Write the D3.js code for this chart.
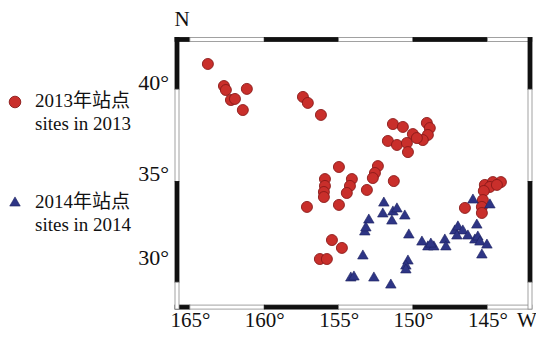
<!DOCTYPE html>
<html>
<head>
<meta charset="utf-8">
<script src="https://cdn.jsdelivr.net/npm/d3@7"></script>
<style>
  html, body { margin: 0; padding: 0; background: #fff; }
  svg { display: block; }
</style>
</head>
<body>
<svg id="chart" width="536" height="340"></svg>
<script>
// ---------- data ----------
const lonTicks = [165, 160, 155, 150, 145];
const latTicks = [40, 35, 30];
const lonTickLabels = ["165°", "160°", "155°", "150°", "145°"];
const latTickLabels = ["40°", "35°", "30°"];
const mapLonExtent = [166, 142];     // degrees W, left -> right
const mapLatExtent = [26.9, 42.45];  // degrees N
const frameLatBreaks = [42.45, 39.6, 34.5, 28.5, 26.9];
const frameLonBreaks = [166, 165, 160, 155, 150, 145, 142];

const sites2013Lon = [163.79, 162.71, 162.58, 161.17, 162.24, 161.97, 161.44, 157.40, 157.07, 156.19,
  151.35, 150.68, 149.07, 148.87, 149.00, 150.01, 151.69, 151.08, 150.41, 150.34, 149.34, 149.74,
  154.98, 155.92, 155.92, 155.99, 155.99, 154.11, 154.24, 154.45, 153.10, 152.36, 152.56, 152.70, 151.29,
  157.13, 154.98, 155.45, 154.78, 156.26, 155.79,
  145.17, 144.63, 144.09, 144.83, 145.24, 144.36, 146.51, 145.30, 145.37, 145.37];
const sites2013Lat = [40.99, 39.78, 39.56, 39.62, 39.01, 39.07, 38.46, 39.18, 38.85, 38.19,
  37.69, 37.53, 37.75, 37.47, 37.09, 37.14, 36.76, 36.54, 36.65, 36.15, 36.81, 36.92,
  35.33, 34.64, 34.23, 33.87, 33.57, 34.64, 34.23, 33.81, 33.99, 35.38, 35.00, 34.70, 34.52,
  32.98, 33.10, 31.01, 30.54, 29.88, 29.88,
  34.29, 34.46, 34.46, 34.17, 33.93, 34.29, 32.92, 33.39, 32.98, 32.62];

const sites2014Lon = [151.96, 152.03, 151.35, 151.08, 151.42, 150.55, 152.97, 153.24, 153.17, 150.28,
  153.37, 149.40, 149.00, 148.60, 148.80, 147.86, 147.79, 147.19, 146.98, 146.65,
  147.05, 146.31, 145.84, 145.71, 145.64, 145.50, 145.03, 145.37, 150.34, 150.48,
  150.48, 154.18, 153.97, 152.63, 151.49, 145.97, 144.83];
const sites2014Lat = [33.21, 32.56, 32.68, 32.86, 32.14, 32.44, 32.20, 31.49, 31.73, 31.31,
  30.06, 30.89, 30.60, 30.60, 30.77, 31.01, 30.60, 31.55, 31.79, 31.55,
  31.25, 31.25, 31.01, 31.90, 31.19, 30.89, 30.71, 30.12, 29.76, 29.46,
  29.23, 28.75, 28.81, 28.75, 28.33, 33.39, 33.10];

const legendCn = ["2013年站点", "2014年站点"];
const legendEn = ["sites in 2013", "sites in 2014"];

// ---------- styles ----------
const redFill = "#c92f2b", redStroke = "#8a1a18";
const blueFill = "#2e3585", blueStroke = "#1c2260";
const serif = "'Liberation Serif', 'Times New Roman', serif";
const legendFont = "'Liberation Serif', 'Noto Sans CJK SC', serif";

// ---------- scales ----------
const x = d3.scaleLinear().domain(mapLonExtent).range([175, 532]);
const y = d3.scaleLinear().domain([30, 35, 40]).range([257, 173, 82]);

const svg = d3.select("#chart");

// ---------- points ----------
const pts2013 = sites2013Lon.map((lon, i) => ({lon, lat: sites2013Lat[i]}));
const pts2014 = sites2014Lon.map((lon, i) => ({lon, lat: sites2014Lat[i]}));

svg.append("g").selectAll("circle").data(pts2013).join("circle")
  .attr("cx", d => x(d.lon)).attr("cy", d => y(d.lat)).attr("r", 5.5)
  .attr("fill", redFill).attr("stroke", redStroke).attr("stroke-width", 0.9);

const tri = d3.symbol().type(d3.symbolTriangle).size(48);
svg.append("g").selectAll("path").data(pts2014).join("path")
  .attr("d", tri)
  .attr("transform", d => `translate(${x(d.lon)},${y(d.lat)})`)
  .attr("fill", blueFill).attr("stroke", blueStroke).attr("stroke-width", 0.6);

// ---------- frame (alternating bars) ----------
const bw = 4;
const x0 = x(mapLonExtent[0]), x1 = x(mapLonExtent[1]);
const y0 = y(mapLatExtent[1]), y1 = y(mapLatExtent[0]);
const frame = svg.append("g");
function seg(xa, ya, w, h, black) {
  frame.append("rect").attr("x", xa).attr("y", ya).attr("width", w).attr("height", h)
    .attr("fill", black ? "#111" : "#fff")
    .attr("stroke", black ? "#111" : "#8a8a8a").attr("stroke-width", 0.8);
}
for (let i = 0; i < frameLonBreaks.length - 1; i++) {
  const a = x(frameLonBreaks[i]), b = x(frameLonBreaks[i + 1]);
  const black = i % 2 === 0;
  seg(a, y0, b - a, bw, black);
  seg(a, y1 - bw, b - a, bw, black);
}
for (let i = 0; i < frameLatBreaks.length - 1; i++) {
  const a = y(frameLatBreaks[i]), b = y(frameLatBreaks[i + 1]);
  const black = i % 2 === 0;
  seg(x0, a, bw, b - a, black);
  seg(x1 - bw, a, bw, b - a, black);
}

// ---------- axes ----------
const xAxis = d3.axisBottom(x).tickValues(lonTicks).tickSize(0).tickPadding(3)
  .tickFormat((d, i) => lonTickLabels[i]);
const gx = svg.append("g").attr("transform", `translate(0,${y1})`).call(xAxis);
gx.select(".domain").remove();
gx.selectAll("text").attr("font-family", serif).attr("font-size", 21).attr("fill", "#111");

const yAxis = d3.axisLeft(y).tickValues(latTicks).tickSize(0).tickPadding(6)
  .tickFormat((d, i) => latTickLabels[i]);
const gy = svg.append("g").attr("transform", `translate(${x0},0)`).call(yAxis);
gy.select(".domain").remove();
gy.selectAll("text").attr("font-family", serif).attr("font-size", 22).attr("fill", "#111");

svg.append("text").attr("x", 517).attr("y", 327).text("W")
  .attr("font-family", serif).attr("font-size", 21).attr("fill", "#111");
svg.append("text").attr("x", 182).attr("y", 26).attr("text-anchor", "middle").text("N")
  .attr("font-family", serif).attr("font-size", 21).attr("fill", "#111");

// ---------- legend ----------
const lg = svg.append("g");
const legendY = [102, 203];
lg.append("circle").attr("cx", 15).attr("cy", legendY[0]).attr("r", 5.8)
  .attr("fill", redFill).attr("stroke", redStroke).attr("stroke-width", 0.9);
lg.append("path").attr("d", tri).attr("transform", `translate(15,${legendY[1]})`)
  .attr("fill", blueFill).attr("stroke", blueStroke).attr("stroke-width", 0.6);
legendCn.forEach((t, i) => {
  lg.append("text").attr("x", 35).attr("y", legendY[i] + 5).text(t)
    .attr("font-family", legendFont).attr("font-size", 19).attr("fill", "#111");
  lg.append("text").attr("x", 35).attr("y", legendY[i] + 28).text(legendEn[i])
    .attr("font-family", legendFont).attr("font-size", 19).attr("fill", "#111");
});
</script>
</body>
</html>
